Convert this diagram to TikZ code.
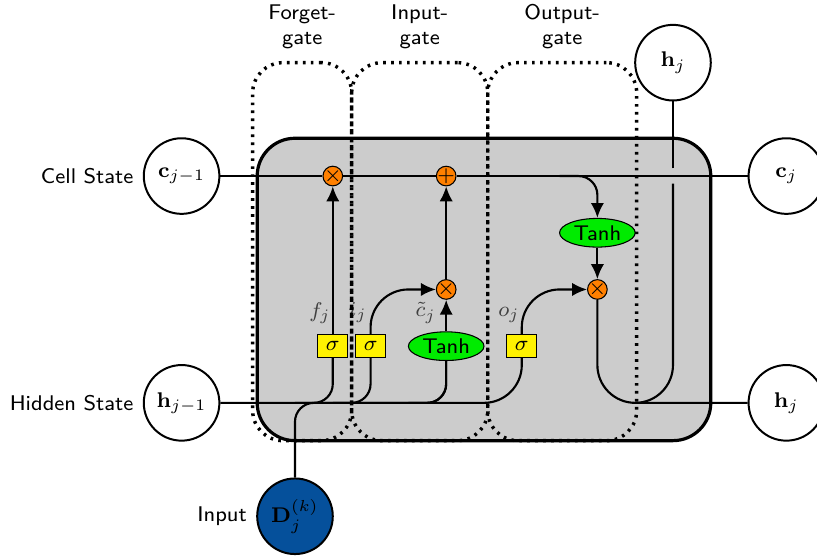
\documentclass[tikz,border=0pt]{standalone}
\usetikzlibrary{shapes.geometric,arrows.meta}
\definecolor{cellgray}{RGB}{204,204,204}
\definecolor{oporange}{RGB}{255,128,0}
\definecolor{sigyellow}{RGB}{255,242,0}
\definecolor{tanhgreen}{RGB}{0,235,0}
\definecolor{inblue}{RGB}{5,80,155}
\begin{document}
\begin{tikzpicture}[
  font=\sffamily\footnotesize,
  >={Latex[length=5.6pt,width=5pt]},
  cell/.style={rectangle, rounded corners=5mm, draw, very thick, fill=cellgray},
  operator/.style={circle, draw, fill=oporange, inner sep=-0.5pt, minimum size=0.26cm},
  function/.style={ellipse, draw, fill=tanhgreen, minimum width=1cm, minimum height=0.37cm, inner sep=1pt},
  ct/.style={circle, draw, fill=white, line width=.75pt, minimum width=1cm, inner sep=1pt},
  gt/.style={rectangle, draw, fill=sigyellow, minimum width=4mm, minimum height=3mm, inner sep=1pt},
  sidelabel/.style={font=\sffamily\footnotesize},
  ArrowC1/.style={rounded corners=.25cm, thick},
  ArrowC2/.style={rounded corners=.5cm, thick},
  gatebox/.style={draw, rounded corners=0.4cm, line width=1.3pt, dash pattern=on 1pt off 2pt},
  gatelabel/.style={align=center, font=\sffamily\footnotesize},
  siglabel/.style={text=black!75},
]
\useasboundingbox (-6.402,-3.565) rectangle (4.405,3.829);

% the cell
\node [cell, minimum height=4cm, minimum width=6cm] (cellbox) at (0,0) {};

% gate inputs
\node [gt] (ibox1) at (-2,-0.75) {$\sigma$};
\node [gt] (ibox2) at (-1.5,-0.75) {$\sigma$};
\node [function] (ibox3) at (-0.5,-0.75) {Tanh};
\node [gt] (ibox4) at (0.5,-0.75) {$\sigma$};

% operators
\node [operator] (mux1) at (-2,1.5) {$\times$};
\node [operator] (add1) at (-0.5,1.5) {$+$};
\node [operator] (mux2) at (-0.5,0) {$\times$};
\node [operator] (mux3) at (1.5,0) {$\times$};
\node [function] (func1) at (1.5,0.75) {Tanh};

% external inputs
\node [ct, label={[sidelabel]left:Cell State}] (c) at (-4,1.5) {$\mathbf{c}_{j-1}$};
\node [ct, label={[sidelabel]left:Hidden State}] (h) at (-4,-1.5) {$\mathbf{h}_{j-1}$};
\node [ct, fill=inblue, label={[sidelabel]left:Input}] (x) at (-2.5,-3) {$\mathbf{D}_j^{(k)}$};

% external outputs
\node [ct] (c2) at (4,1.5) {$\mathbf{c}_j$};
\node [ct] (h2) at (4,-1.5) {$\mathbf{h}_j$};
\node [ct] (x2) at (2.5,3) {$\mathbf{h}_j$};

% cell state
\draw [ArrowC1] (c) -- (mux1) -- (add1) -- (c2);

% hidden state and input
\draw [ArrowC2] (h) -| (ibox4);
\draw [ArrowC1] (h -| ibox1) ++(-0.5,0) -| (ibox1);
\draw [ArrowC1] (h -| ibox2) ++(-0.5,0) -| (ibox2);
\draw [ArrowC1] (h -| ibox3) ++(-0.5,0) -| (ibox3);
\draw [ArrowC1] (x) -- (x |- h) -| (ibox3);

% internal connections
\draw [->, ArrowC2] (ibox1) -- (mux1);
\draw [->, ArrowC2] (ibox2) |- (mux2);
\draw [->, ArrowC2] (ibox3) -- (mux2);
\draw [->, ArrowC2] (ibox4) |- (mux3);
\draw [->, ArrowC2] (mux2) -- (add1);
\draw [->, ArrowC1] (add1 -| func1) ++(-0.5,0) -| (func1);
\draw [->, ArrowC2] (func1) -- (mux3);

% outputs
\draw [ArrowC2] (mux3) |- (h2);
\path (c2 -| x2) ++(0,-0.1) coordinate (i1);
\draw [ArrowC2] (h2 -| x2) ++(-0.5,0) -| (i1);
\draw [ArrowC2] (i1) ++(0,0.2) -- (x2);

% gate signal labels
\node [siglabel] (lf) at (-2.17,-0.31) {$f_j$};
\node [siglabel] (li) at (-1.67,-0.31) {$i_j$};
\node [siglabel] (lc) at (-0.77,-0.31) {$\tilde{c}_j$};
\node [siglabel] (lo) at (0.33,-0.34) {$o_j$};

% gate regions
\node [gatebox, minimum width=1.31cm, minimum height=5cm] (fg) at (-2.405,0.5) {};
\node [gatebox, minimum width=1.80cm, minimum height=5cm] (ig) at (-0.85,0.5) {};
\node [gatebox, minimum width=1.97cm, minimum height=5cm] (og) at (1.035,0.5) {};
\node [gatelabel, above=1pt] at (fg.north) {Forget-\\gate};
\node [gatelabel, above=1pt] at (ig.north) {Input-\\gate};
\node [gatelabel, above=1pt] at (og.north) {Output-\\gate};
\end{tikzpicture}
\end{document}
